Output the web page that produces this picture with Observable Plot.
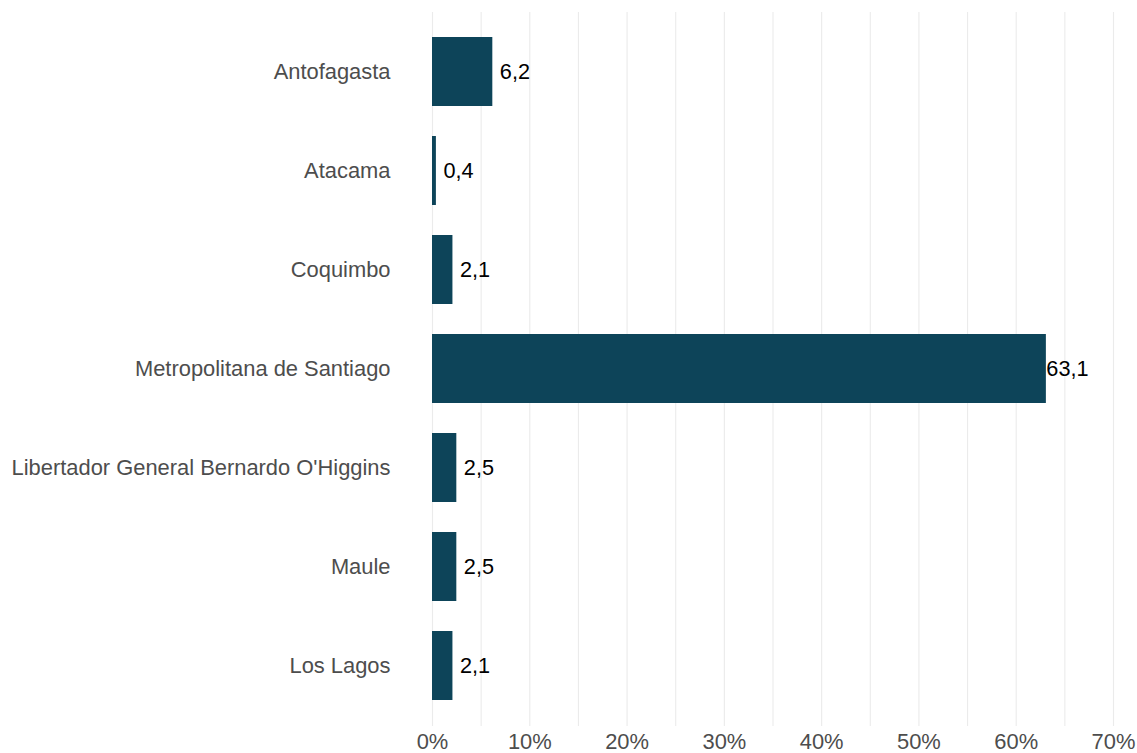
<!DOCTYPE html>
<html>
<head>
<meta charset="utf-8">
<script src="https://cdn.jsdelivr.net/npm/d3@7"></script>
<script src="https://cdn.jsdelivr.net/npm/@observablehq/plot@0.6"></script>
<style>
  html, body { margin: 0; padding: 0; background: #fff; }
  #chart svg { display: block; overflow: visible; }
</style>
</head>
<body>
<div id="chart"></div>
<script>
const regions = ["Antofagasta", "Atacama", "Coquimbo", "Metropolitana de Santiago", "Libertador General Bernardo O'Higgins", "Maule", "Los Lagos"];
const shares = [6.2, 0.4, 2.1, 63.1, 2.5, 2.5, 2.1];
const xTicks = [0, 10, 20, 30, 40, 50, 60, 70];
const gridLines = [0, 5, 10, 15, 20, 25, 30, 35, 40, 45, 50, 55, 60, 65, 70];

const data = regions.map((r, i) => ({region: r, value: shares[i]}));
const fmt = v => v.toFixed(1).replace(".", ",");
const maxVal = d3.max(shares);

const chart = Plot.plot({
  width: 1137,
  height: 753,
  marginTop: 12,
  marginBottom: 27,
  marginLeft: 432,
  marginRight: 24,
  style: {fontFamily: "'Liberation Sans', Arial, sans-serif", fontSize: "21.5px", background: "#fff"},
  x: {domain: [0, 70], label: null},
  y: {domain: regions, paddingInner: 0.3, paddingOuter: 0.25, label: null},
  marks: [
    Plot.ruleX(gridLines, {stroke: "#EBEBEB", strokeWidth: 1.1}),
    Plot.barX(data, {y: "region", x: "value", fill: "#0D4459"}),
    Plot.text(data.filter(d => d.value < maxVal), {y: "region", x: "value", text: d => fmt(d.value), textAnchor: "start", dx: 7, fill: "#000", fontSize: 21.7}),
    Plot.text(data.filter(d => d.value === maxVal), {y: "region", x: "value", text: d => fmt(d.value), textAnchor: "start", dx: 0, fill: "#000", fontSize: 21.7}),
    Plot.axisX({ticks: xTicks, tickFormat: d => d + "%", tickSize: 0, tickPadding: 7, label: null, fill: "#4D4D4D", fontSize: 21.9}),
    Plot.axisY({tickSize: 0, tickPadding: 42, label: null, fill: "#4D4D4D", fontSize: 21.9})
  ]
});
document.getElementById("chart").appendChild(chart);
</script>
</body>
</html>
